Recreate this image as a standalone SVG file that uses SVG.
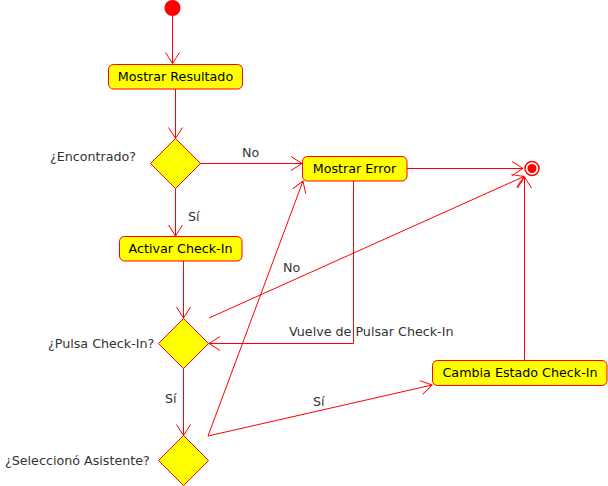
<svg xmlns="http://www.w3.org/2000/svg" width="608" height="486" viewBox="0 0 608 486">
<style>
  .node rect { fill: #FFFF00; stroke: #FF0000; stroke-width: 1; }
  .node polygon { fill: #FFFF00; stroke: #FF0000; stroke-width: 1; }
  .ntext { font-family: "DejaVu Sans", sans-serif; font-size: 12.7px; fill: #000000; text-anchor: middle; }
  .lbl { font-family: "DejaVu Sans", sans-serif; font-size: 12.7px; fill: #333333; }
  .edge { fill: none; stroke: #FF0000; stroke-width: 1; marker-end: url(#arr); }
</style>
<defs>
  <marker id="arr" markerUnits="userSpaceOnUse" markerWidth="24" markerHeight="24" viewBox="-12 -12 24 24" refX="0" refY="0" orient="auto">
    <path d="M-11,-7 L0,0 L-11,7" fill="none" stroke="#FF0000" stroke-width="1"/>
  </marker>
</defs>
<rect width="608" height="486" fill="#FFFFFF"/>

<g id="connectors">
  <path class="edge" d="M172.5,16 L172.5,63.5"/>
  <path class="edge" d="M175.5,89 L175.5,138.5"/>
  <path class="edge" d="M200,163.5 L302,163.5"/>
  <path class="edge" d="M175.5,188 L175.5,236"/>
  <path class="edge" d="M407,168.5 L523,168.5"/>
  <path class="edge" d="M183.5,261 L183.5,318"/>
  <path class="edge" d="M353.5,181 L353.5,343.5 L209,343.5"/>
  <path class="edge" d="M209,318 L524,176.5"/>
  <path class="edge" d="M183.5,368 L183.5,435.5"/>
  <path class="edge" d="M208,436 L303,181"/>
  <path class="edge" d="M208,436 L432,385"/>
  <path class="edge" d="M524.5,360 L524.5,177"/>
  <text class="lbl" x="242" y="156.5">No</text>
  <text class="lbl" x="188" y="221">Sí</text>
  <text class="lbl" x="283" y="271.5">No</text>
  <text class="lbl" x="289" y="336">Vuelve de Pulsar Check-In</text>
  <text class="lbl" x="165" y="403">Sí</text>
  <text class="lbl" x="313" y="406">Sí</text>
</g>

<g id="start">
  <circle cx="172.5" cy="8" r="8" fill="#FF0000"/>
</g>

<g id="end">
  <circle cx="532" cy="168.5" r="7" fill="none" stroke="#FF0000" stroke-width="1.5"/>
  <circle cx="532" cy="168.5" r="4.5" fill="#FF0000"/>
</g>

<g id="mostrar-resultado" class="node">
  <rect x="108.5" y="64.5" width="134" height="24.5" rx="5" ry="5"/>
  <text class="ntext" x="175.5" y="81">Mostrar Resultado</text>
</g>

<g id="encontrado" class="node">
  <polygon points="175.5,138.5 200.5,163.5 175.5,188.5 150.5,163.5"/>
  <text class="lbl" x="50" y="160.5">¿Encontrado?</text>
</g>

<g id="mostrar-error" class="node">
  <rect x="302.5" y="156.5" width="104.5" height="24.5" rx="5" ry="5"/>
  <text class="ntext" x="354.5" y="173">Mostrar Error</text>
</g>

<g id="activar" class="node">
  <rect x="119.5" y="236.5" width="122.5" height="24.5" rx="5" ry="5"/>
  <text class="ntext" x="180.5" y="253">Activar Check-In</text>
</g>

<g id="pulsa" class="node">
  <polygon points="183.5,318.5 208.5,343.5 183.5,368.5 158.5,343.5"/>
  <text class="lbl" x="48" y="347.5">¿Pulsa Check-In?</text>
</g>

<g id="selecciono" class="node">
  <polygon points="183.5,435.5 208.5,460.5 183.5,485.5 158.5,460.5"/>
  <text class="lbl" x="5" y="465">¿Seleccionó Asistente?</text>
</g>

<g id="cambia" class="node">
  <rect x="432.5" y="360.5" width="174.5" height="25" rx="5" ry="5"/>
  <text class="ntext" x="520" y="377">Cambia Estado Check-In</text>
</g>
</svg>
